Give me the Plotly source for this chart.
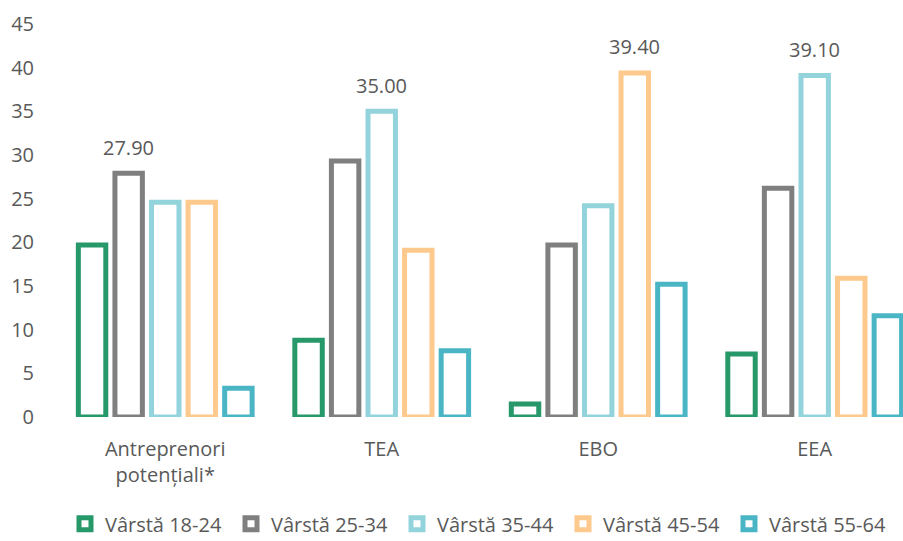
import plotly.graph_objects as go

# Categories and age-group series (percent)
categories = ["Antreprenori<br>potențiali*", "TEA", "EBO", "EEA"]
series_names = ["Vârstă 18-24", "Vârstă 25-34", "Vârstă 35-44", "Vârstă 45-54", "Vârstă 55-64"]
age_18_24 = [19.7, 8.8, 1.5, 7.2]
age_25_34 = [27.9, 29.3, 19.7, 26.2]
age_35_44 = [24.6, 35.0, 24.2, 39.1]
age_45_54 = [24.6, 19.1, 39.4, 15.9]
age_55_64 = [3.3, 7.6, 15.2, 11.6]
y_ticks = [0, 5, 10, 15, 20, 25, 30, 35, 40, 45]

series_values = [age_18_24, age_25_34, age_35_44, age_45_54, age_55_64]
colors = ["#27986A", "#7F7F7F", "#92D3DC", "#FDC98C", "#4AB5C4"]

TEXT = "#595959"
FONT = "'Open Sans', sans-serif"
FS = 20

# layout geometry of the grouped bars
BARGAP = 0.155
PLOT_LEFT = 57
X_RANGE = [-0.5, 3.408]
plot_w = 903 - PLOT_LEFT
cat_px = plot_w / (X_RANGE[1] - X_RANGE[0])
slot_px = cat_px * (1 - BARGAP) / len(series_values)

fig = go.Figure()
for name, vals, col in zip(series_names, series_values, colors):
    fig.add_trace(go.Bar(
        name=name,
        x=categories,
        y=vals,
        marker=dict(color="white", line=dict(color=col, width=5)),
        cliponaxis=False,
        hoverinfo="skip",
    ))

# value label above the tallest bar of each category
for ci, cat in enumerate(categories):
    col_vals = [s[ci] for s in series_values]
    top = max(col_vals)
    si = col_vals.index(top)
    fig.add_annotation(
        x=cat, y=top, xref="x", yref="y",
        text=f"{top:.2f}",
        showarrow=False,
        xshift=(si - (len(series_values) - 1) / 2) * slot_px,
        yshift=26,
        yanchor="middle",
        font=dict(size=FS, color=TEXT, family=FONT),
    )

fig.update_layout(
    width=903,
    height=541,
    margin=dict(l=PLOT_LEFT, r=0, t=24, b=124, autoexpand=False),
    plot_bgcolor="white",
    paper_bgcolor="white",
    barmode="group",
    bargap=BARGAP,
    bargroupgap=0.25,
    font=dict(family=FONT, size=FS, color=TEXT),
    showlegend=True,
    legend=dict(
        orientation="h",
        x=0.5, xanchor="center",
        y=-0.222, yanchor="top",
        itemwidth=30,
        entrywidth=121,
        font=dict(size=FS, color=TEXT, family=FONT),
        traceorder="normal",
    ),
    xaxis=dict(
        range=X_RANGE,
        showgrid=False,
        showline=False,
        zeroline=False,
        ticks="",
        ticklabelstandoff=18,
        tickfont=dict(size=FS, color=TEXT, family=FONT),
    ),
    yaxis=dict(
        range=[0, 45],
        tickvals=y_ticks,
        showgrid=False,
        showline=False,
        zeroline=False,
        ticks="",
        ticklabelstandoff=22,
        tickfont=dict(size=FS, color=TEXT, family=FONT),
    ),
)

fig.write_html("out.html")
